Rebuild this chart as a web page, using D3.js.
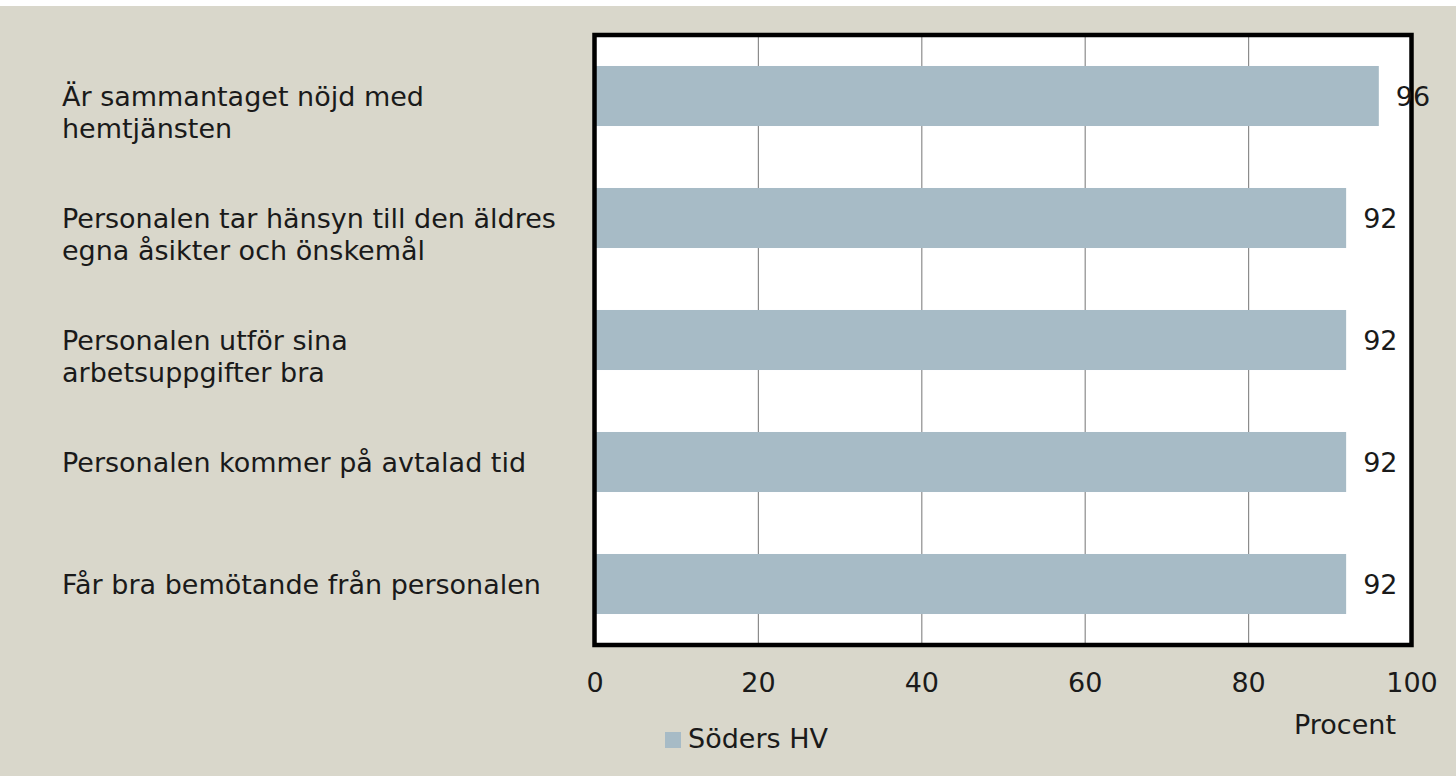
<!DOCTYPE html>
<html><head><meta charset="utf-8">
<script src="https://cdn.jsdelivr.net/npm/d3@7"></script>
<style>
html,body{margin:0;padding:0;background:#fff;}
svg{display:block;}
text{font-family:"DejaVu Sans",sans-serif;fill:#1a1a1a;}
</style></head>
<body>
<script>
const categories = [
  "Är sammantaget nöjd med|hemtjänsten",
  "Personalen tar hänsyn till den äldres|egna åsikter och önskemål",
  "Personalen utför sina|arbetsuppgifter bra",
  "Personalen kommer på avtalad tid",
  "Får bra bemötande från personalen"
];
const values = [96, 92, 92, 92, 92];
const ticks = [0, 20, 40, 60, 80, 100];
const seriesName = "Söders HV";
const axisTitle = "Procent";

const W = 1456, H = 776;
const fs = 27;
const plot = {left: 594.5, right: 1411.5, top: 35, bottom: 645};

const svg = d3.select("body").append("svg").attr("width", W).attr("height", H);
svg.append("rect").attr("width", W).attr("height", H).attr("fill", "#fff");
svg.append("rect").attr("x", 0).attr("y", 6).attr("width", W).attr("height", H - 6).attr("fill", "#d9d7cb");

const x = d3.scaleLinear().domain([0, 100]).range([plot.left, plot.right]);
const y = d3.scaleBand().domain(categories).range([plot.top, plot.bottom]).paddingInner(0.508).paddingOuter(0.254);

svg.append("rect").attr("x", plot.left).attr("y", plot.top)
  .attr("width", plot.right - plot.left).attr("height", plot.bottom - plot.top).attr("fill", "#fff");

// gridlines
const grid = svg.append("g").attr("transform", `translate(0,${plot.bottom})`)
  .call(d3.axisBottom(x).tickValues(ticks).tickSize(-(plot.bottom - plot.top)).tickFormat(""));
grid.select(".domain").remove();
grid.selectAll("line").attr("stroke", "#8c8c8c").attr("stroke-width", 1.2);

// bars
svg.selectAll("rect.bar").data(values).join("rect").attr("class", "bar")
  .attr("x", x(0)).attr("y", (d, i) => y(categories[i]))
  .attr("width", d => x(d) - x(0)).attr("height", y.bandwidth())
  .attr("fill", "#a7bbc6");

// border
svg.append("rect").attr("x", plot.left).attr("y", plot.top)
  .attr("width", plot.right - plot.left).attr("height", plot.bottom - plot.top)
  .attr("fill", "none").attr("stroke", "#000").attr("stroke-width", 4.5);

// data labels
svg.selectAll("text.val").data(values).join("text").attr("class", "val")
  .attr("x", d => x(d) + 17).attr("y", (d, i) => y(categories[i]) + y.bandwidth() / 2)
  .attr("dy", "0.36em").attr("font-size", fs).text(d => d);

// x tick labels
const xa = svg.append("g").attr("transform", `translate(0,${plot.bottom})`)
  .call(d3.axisBottom(x).tickValues(ticks).tickSize(0).tickFormat(d3.format("d")));
xa.select(".domain").remove();
xa.selectAll("text").attr("y", 47).attr("dy", 0).attr("font-size", fs)
  .attr("font-family", "DejaVu Sans").attr("fill", "#1a1a1a");

// category labels
const cl = svg.selectAll("text.cat").data(categories).join("text").attr("class", "cat")
  .attr("x", 62).attr("y", d => y(d) + y.bandwidth() / 2 + 10).attr("font-size", fs);
cl.each(function(d) {
  const lines = d.split("|");
  const t = d3.select(this);
  lines.forEach((ln, k) => {
    t.append("tspan").attr("x", 62).attr("dy", k === 0 ? 0 : 32).text(ln);
  });
});

// axis title
svg.append("text").attr("x", 1345).attr("y", 734).attr("text-anchor", "middle")
  .attr("font-size", fs).text(axisTitle);

// legend
svg.append("rect").attr("x", 665).attr("y", 732).attr("width", 16).attr("height", 16).attr("fill", "#a7bbc6");
svg.append("text").attr("x", 688).attr("y", 748).attr("font-size", fs).text(seriesName);
</script>
</body></html>
